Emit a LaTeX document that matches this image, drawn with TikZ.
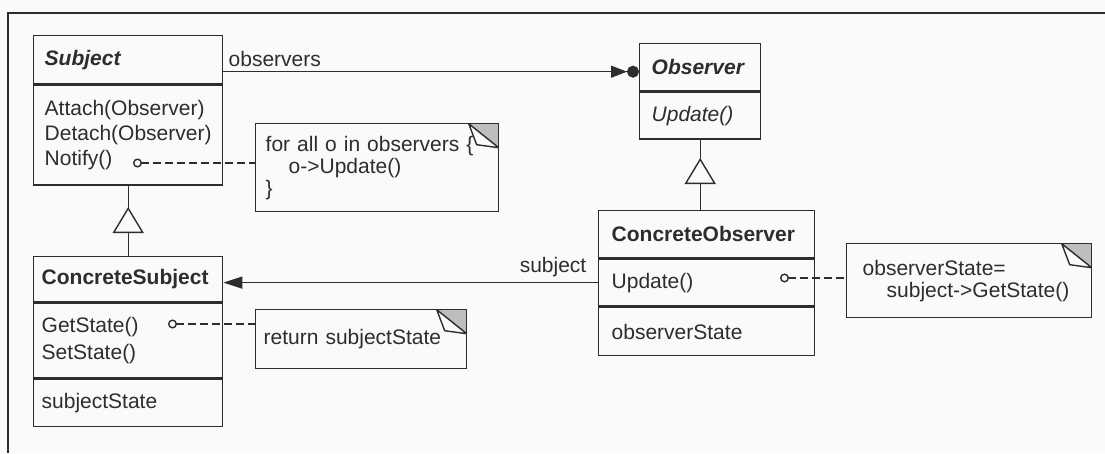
\documentclass[tikz,border=0pt]{standalone}
\usepackage{fontspec}
\setmainfont{Liberation Sans}
\usetikzlibrary{arrows.meta,decorations.markings}
\definecolor{ink}{RGB}{45,45,45}
\definecolor{paper}{RGB}{250,250,250}
\definecolor{fold}{RGB}{190,190,190}

\begin{document}
\begin{tikzpicture}
  [x=1pt,y=-1pt,line width=1.4pt,color=ink,
   every node/.style={font=\fontsize{21}{25}\selectfont},
   cls/.style={draw=ink,rectangle,anchor=north west,inner ysep=0pt,align=left},
   note/.style={cls,font=\fontsize{21}{22}\selectfont,path picture={
       \fill[fold] ([xshift=-30pt]path picture bounding box.north east) -- (path picture bounding box.north east)
         -- ([yshift=-24pt]path picture bounding box.north east) -- cycle;
       \draw[ink,line width=1.4pt] ([xshift=-30pt]path picture bounding box.north east)
         -- ([xshift=-22pt,yshift=-21pt]path picture bounding box.north east)
         -- ([yshift=-24pt]path picture bounding box.north east) -- cycle;}},
   lbl/.style={inner sep=0pt},
   dep/.style={dash pattern=on 8pt off 4pt,{Circle[open,length=9pt,width=9pt]}-},
   gen/.style={postaction=decorate,decoration={markings,
       mark=at position #1 with {\arrow{Triangle[length=26pt,width=31pt,fill=paper]}}}}] % classes are stacked compartments, notes carry a folded corner

    \fill[paper] (0,0) rectangle (1105,453);
    \useasboundingbox (0,0) rectangle (1105,453);
    \draw[line width=1.6pt] (1105,13) -- (8,13) -- (8,453);

    % Subject
    \node[cls,inner xsep=11pt,text width=167pt,minimum height=48pt] (sub) at (33,35) {\textbf{\textit{Subject}}};
    \node[cls,inner xsep=11pt,text width=167pt,minimum height=100pt] (subOps) at (sub.south west) {Attach(Observer)\\Detach(Observer)\\Notify()};

    % ConcreteSubject
    \node[cls,inner xsep=8pt,text width=173pt,minimum height=45pt] (cs) at (33,256) {\textbf{ConcreteSubject}};
    \node[cls,inner xsep=8pt,text width=173pt,minimum height=75pt,font=\fontsize{21}{27}\selectfont] (csOps) at (cs.south west) {GetState()\\SetState()};
    \node[cls,inner xsep=8pt,text width=173pt,minimum height=47pt] (csAttr) at (csOps.south west) {subjectState};

    % Observer
    \node[cls,inner xsep=12pt,text width=97pt,minimum height=47pt] (obs) at (639,43) {\textbf{\textit{Observer}}};
    \node[cls,inner xsep=12pt,text width=97pt,minimum height=47pt] (obsOps) at (obs.south west) {\textit{Update()}};

    % ConcreteObserver
    \node[cls,inner xsep=13pt,text width=190pt,minimum height=47pt] (co) at (598,210) {\textbf{ConcreteObserver}};
    \node[cls,inner xsep=13pt,text width=190pt,minimum height=47pt] (coOps) at (co.south west) {Update()};
    \node[cls,inner xsep=13pt,text width=190pt,minimum height=48pt] (coAttr) at (coOps.south west) {observerState};

    % notes
    \node[note,inner xsep=10pt,text width=223pt,minimum height=88pt] (noteA) at (255,123) {for all o in observers \{\\\hspace*{23pt}o->Update()\\\}};
    \node[note,inner xsep=8pt,text width=195pt,minimum height=59pt] (noteB) at (255,309) {return subjectState};
    \node[note,inner xsep=16pt,text width=213pt,minimum height=74pt] (noteC) at (846,243) {observerState=\\\hspace*{24pt}subject->GetState()};

    \coordinate (notifyPt) at (133,163);
    \coordinate (getPt) at (168,324);
    \coordinate (updPt) at (780,278);

    \draw[dep] (notifyPt) -- (notifyPt -| noteA.west);
    \draw[dep] (getPt) -- (getPt -| noteB.west);
    \draw[dep] (updPt) -- (updPt -| noteC.west);

    % associations
    \draw[-{Triangle[length=16pt,width=12pt]Circle[length=12pt]}] ([yshift=-12pt]sub.east) -- ([yshift=-4.5pt]obs.west);
    \node[lbl,anchor=west] (obsLbl) at (228,59) {observers};
    \draw[-{Triangle[length=19pt,width=12pt]}] (coOps.west) -- (coOps.west -| cs.east);
    \node[lbl,anchor=east] (subjLbl) at (587,267) {subject};

    % generalization
    \draw[gen=49pt] (cs.north) -- (subOps.south);
    \draw[gen=52pt] (obsOps.south |- co.north) -- (obsOps.south);

\end{tikzpicture}
\end{document}
